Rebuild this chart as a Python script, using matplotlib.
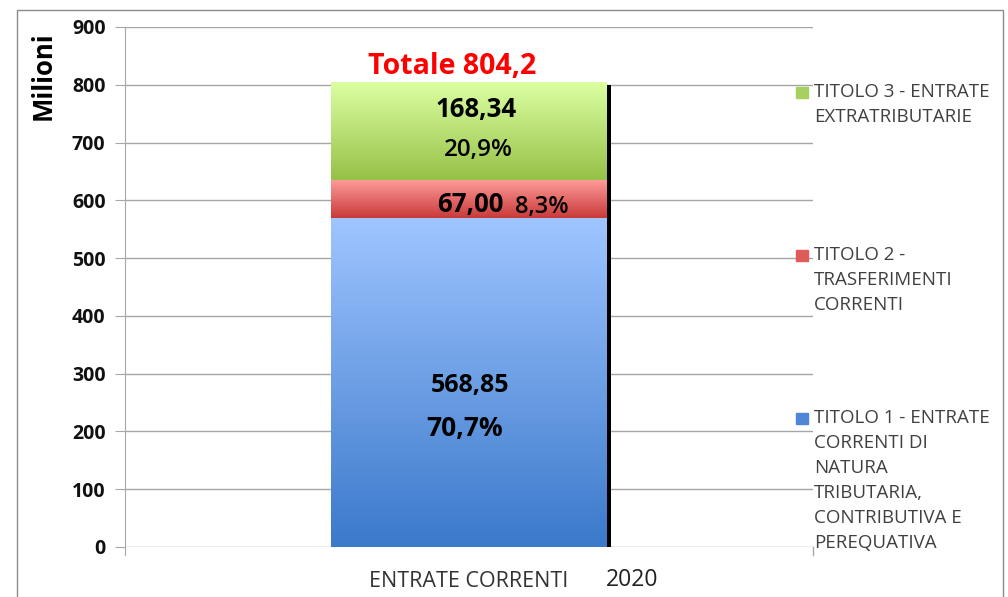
import matplotlib.pyplot as plt
import numpy as np
from matplotlib.colors import LinearSegmentedColormap
from matplotlib.patches import Rectangle
import matplotlib.transforms as mtransforms

plt.rcParams['font.family'] = ['Open Sans', 'DejaVu Sans']

# dati (milioni di euro)
categoria = 'ENTRATE CORRENTI'
anno = '2020'
titoli = ['TITOLO 1 - ENTRATE\nCORRENTI DI\nNATURA\nTRIBUTARIA,\nCONTRIBUTIVA E\nPEREQUATIVA',
          'TITOLO 2 -\nTRASFERIMENTI\nCORRENTI',
          'TITOLO 3 - ENTRATE\nEXTRATRIBUTARIE']
valori = [568.85, 67.00, 168.34]
percentuali = ['70,7%', '8,3%', '20,9%']
yticks = [0, 100, 200, 300, 400, 500, 600, 700, 800, 900]

# sfumature (alto, basso) per ogni titolo
sfumature = [('#9fc5ff', '#3b79cb'),
             ('#ff9d9a', '#c93a3a'),
             ('#dcffa2', '#96c148')]
legenda_col = ['#4f86d6', '#e05a5a', '#a8d060']

totale = sum(valori)

fig = plt.figure(figsize=(10.08, 5.97), dpi=100)
ax = fig.add_axes([125 / 1008, 1 - 547 / 597, 688 / 1008, 520 / 597])

# cornice esterna
fig.add_artist(Rectangle((17 / 1008, -0.01), 986 / 1008, 1 - 10 / 597 + 0.01,
                         transform=fig.transFigure, fill=False,
                         edgecolor='#8c8c8c', lw=1))

ax.set_xlim(-0.5, 0.5)
ax.set_ylim(0, 900)
ax.set_yticks(yticks)
ax.set_yticklabels([str(v) for v in yticks], fontweight='bold', fontsize=14,
                   color='#111111')
ax.yaxis.grid(True, color='#a6a6a6', lw=1)
ax.set_axisbelow(True)
ax.tick_params(axis='y', length=7, color='#a6a6a6', pad=7)
for s in ['top', 'right', 'bottom']:
    ax.spines[s].set_visible(False)
ax.spines['left'].set_color('#a6a6a6')
ax.spines['left'].set_bounds(-14, 900)
ax.set_xticks([0])
ax.set_xticklabels([categoria], fontsize=15.5, color='#333333')
ax.tick_params(axis='x', length=0, pad=17)
ax.plot([0.5, 0.5], [0, -14], color='#a6a6a6', lw=1, clip_on=False)

ax.set_ylabel('Milioni', fontweight='bold', fontsize=18.5)
ax.yaxis.set_label_coords(-0.099, 0.907)

larghezza = 0.4

# ombra della colonna
ombra = ax.bar(0, totale, larghezza, color='black', zorder=1)
sposta = mtransforms.ScaledTranslation(4 / 100, -3 / 100, fig.dpi_scale_trans)
for p in ombra:
    p.set_transform(ax.transData + sposta)

base = 0
segmenti = []
for v, (c_alto, c_basso) in zip(valori, sfumature):
    bar = ax.bar(0, v, larghezza, bottom=base, color='none', zorder=2)[0]
    cmap = LinearSegmentedColormap.from_list('g', [c_basso, c_alto])
    grad = np.linspace(0, 1, 256).reshape(-1, 1)
    x0, y0 = bar.get_x(), bar.get_y()
    im = ax.imshow(grad, cmap=cmap, origin='lower', aspect='auto',
                   extent=[x0, x0 + bar.get_width(), y0, y0 + bar.get_height()],
                   zorder=2)
    im.set_clip_path(bar)
    segmenti.append((base, v))
    base += v
ax.set_xlim(-0.5, 0.5)
ax.set_ylim(0, 900)

def etichetta(testo, y, dx, dy, size, weight='bold', color='black'):
    ax.annotate(testo, xy=(0, y), xytext=(dx, dy), textcoords='offset pixels',
                ha='center', va='center', fontsize=size, fontweight=weight,
                color=color, zorder=5)

fmt = lambda v: f'{v:.2f}'.replace('.', ',')

# Titolo 1
b, v = segmenti[0]
etichetta(fmt(v), b + v / 2, 1, -3, 18)
etichetta(percentuali[0], b + v / 2, -4, -46, 19)
# Titolo 2
b, v = segmenti[1]
etichetta(fmt(v), b + v / 2, 1, -6, 18.5)
etichetta(percentuali[1], b + v / 2, 73, -8, 17, weight='semibold')
# Titolo 3
b, v = segmenti[2]
etichetta(fmt(v), b + v / 2, 7, 21, 18.5)
etichetta(percentuali[2], b + v / 2, 9, -19, 17.5, weight='semibold')

ax.annotate(f'Totale {totale:.1f}'.replace('.', ','), xy=(0, totale),
            xytext=(-17, 16), textcoords='offset pixels', ha='center',
            va='center', fontsize=20.5, fontweight='bold', color='#ff0000')

fig.text(632 / 1008, 1 - 580 / 597, anno, fontsize=16.5, color='#222222',
         ha='center', va='center')

# legenda
legenda_y = [418, 255, 92]
for testo, col, yy in zip(titoli, legenda_col, legenda_y):
    fig.add_artist(Rectangle((796 / 1008, 1 - (yy + 6) / 597), 12 / 1008, 11 / 597,
                             transform=fig.transFigure, color=col))
    fig.text(814 / 1008, 1 - (yy - 9) / 597, testo, fontsize=13.5, color='#404040',
             ha='left', va='top', linespacing=1.5)

fig.savefig('out.png', dpi=100)
